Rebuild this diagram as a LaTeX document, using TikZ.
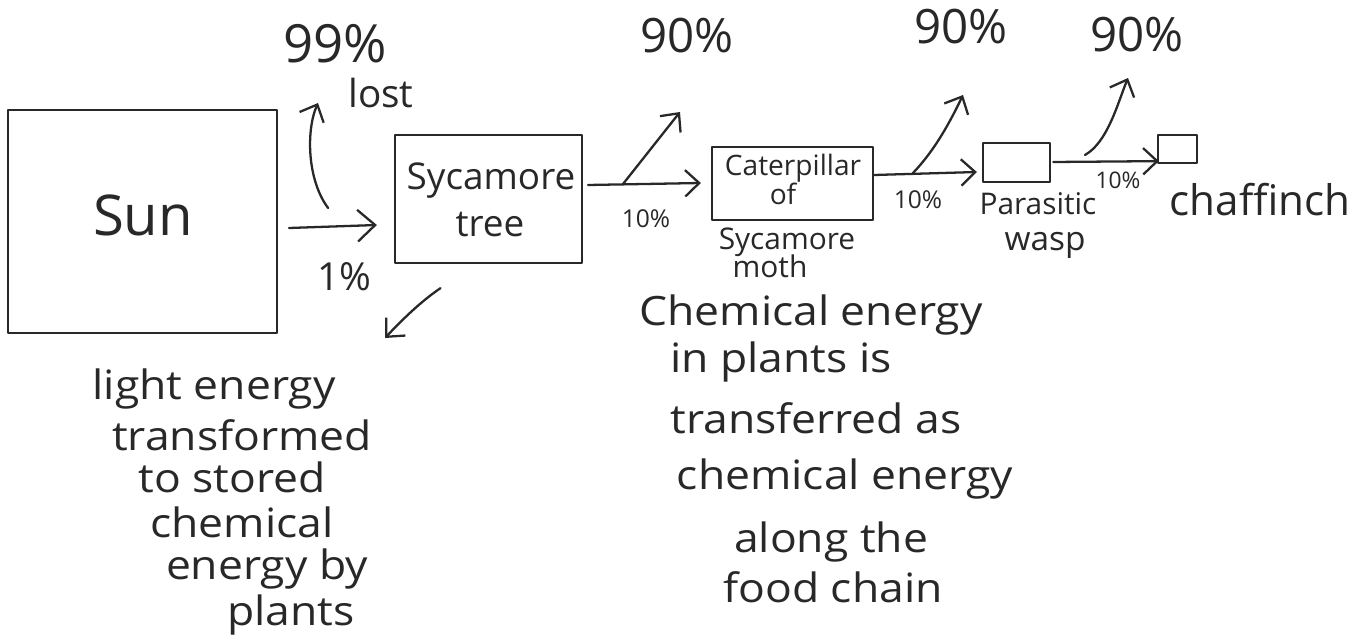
\documentclass[tikz,border=0pt]{standalone}
\usepackage{fontspec}
\setmainfont{Open Sans}
\newfontfamily\widefont[FakeStretch=1.1]{Open Sans}
\usetikzlibrary{arrows.meta,calc}
\definecolor{ink}{RGB}{40,40,40}
\begin{document}
\begin{tikzpicture}[x=0.02cm,y=-0.02cm,
  inkline/.style={draw=ink, line width=1.3pt, line cap=round, line join=round},
  box/.style={inkline, rectangle, inner sep=0pt},
  arr/.style={inkline, -{Straight Barb[length=8pt,width=15pt]}},
  bigarr/.style={inkline, -{Straight Barb[length=10pt,width=18pt]}},
  xt/.style={font=\fontsize{#1}{#1}\selectfont, text height=#1pt*0.53, text depth=0pt, inner sep=0pt, text=ink},
  wt/.style={font=\widefont\fontsize{#1}{#1}\selectfont, text height=#1pt*0.53, text depth=0pt, inner sep=0pt, text=ink},
  nt/.style={font=\fontsize{#1}{#1}\selectfont, text height=#1pt*0.71, text depth=0pt, inner sep=0pt, text=ink}
]
\useasboundingbox (0,0) rectangle (1372,641);
\fill[white] (0,0) rectangle (1372,641);

% boxes
\node[box, minimum width=5.38cm, minimum height=4.46cm] (sun) at (142.5,221.5) {};
\node[box, minimum width=3.74cm, minimum height=2.56cm] (tree) at (488.5,199) {};
\node[box, minimum width=3.22cm, minimum height=1.46cm] (cat) at (792.5,183.5) {};
\node[box, minimum width=1.34cm, minimum height=0.78cm] (wasp) at (1016.5,162.5) {};
\node[box, minimum width=0.78cm, minimum height=0.56cm] (chaf) at (1177.5,149) {};

% box texts
\node[xt=32] (sunT) at (143,221) {Sun};
\node[xt=21] (treeT1) at (491,180) {Sycamore};
\node[xt=21] (treeT2) at (490,227) {tree};
\node[xt=16] (catT1) at (793,168) {Caterpillar};
\node[xt=16] (catT2) at (783,197) {of};
\node[xt=17] (catT3) at (787,242) {Sycamore};
\node[xt=17] (catT4) at (770,270) {moth};
\node[xt=17] (waspT1) at (1038,207) {Parasitic};
\node[xt=19] (waspT2) at (1045,242) {wasp};
\node[xt=24] (chafT) at (1260,204) {chaffinch};

% percentages
\node[nt=30] (p99) at (335,44) {99\%};
\node[xt=22] (lost) at (381,97) {lost};
\node[nt=22] (p1) at (344,277) {1\%};
\node[nt=27] (p90a) at (687,36) {90\%};
\node[nt=27] (p90b) at (961,27) {90\%};
\node[nt=27] (p90c) at (1137,35) {90\%};
\node[nt=14] (p10a) at (646,219) {10\%};
\node[nt=14] (p10b) at (918,200) {10\%};
\node[nt=13] (p10c) at (1118,180) {10\%};

% text block 1
\node[wt=23] (a1) at (214,389) {light energy};
\node[wt=23] (a2) at (242,440) {transformed};
\node[wt=23] (a3) at (232,482) {to stored};
\node[wt=23] (a4) at (242,527) {chemical};
\node[wt=23] (a5) at (267,569) {energy by};
\node[wt=23] (a6) at (291,615) {plants};

% text block 2
\node[wt=23] (c1) at (811,315) {Chemical energy};
\node[wt=23] (c2) at (781,362) {in plants is};
\node[wt=23] (c3) at (816,423) {transferred as};
\node[wt=23] (c4) at (845,479) {chemical energy};
\node[wt=23] (c5) at (831,542) {along the};
\node[wt=23] (c6) at (833,592) {food chain};

% connectors
\draw[bigarr] ($(sun.east)+(11,6.5)$) -- ($(tree.west)+(-17,26)$);
\coordinate (lostS) at ($(sun.east)+(50,-13.5)$);
\coordinate (lostE) at (318,103);
\draw[arr] (lostS) .. controls (307,180) and (306,130) .. (lostE);
\coordinate (plantE) at (385,338);
\draw[arr] ($(tree.south)+(-48,24)$) .. controls (420,302) and (400,322) .. (plantE);

\draw[arr] ($(tree.east)+(5,-14)$) -- ($(cat.west)+(-10,-0.5)$);
\coordinate (b1s) at (623,184);
\coordinate (b1e) at (680,112);
\draw[arr] (b1s) -- (b1e);

\draw[arr] ($(cat.east)+(0,-8.5)$) -- ($(wasp.west)+(-5,9.5)$);
\coordinate (b2s) at (913,173);
\coordinate (b2e) at (963,95);
\draw[arr] (b2s) .. controls (935,150) and (950,122) .. (b2e);

\draw[arr] ($(wasp.east)+(2,-0.5)$) -- ($(chaf.south west)+(2,-3)$);
\coordinate (b3s) at (1085,155);
\coordinate (b3e) at (1128,78);
\draw[arr] (b3s) .. controls (1108,142) and (1118,102) .. (b3e);
\end{tikzpicture}
\end{document}
